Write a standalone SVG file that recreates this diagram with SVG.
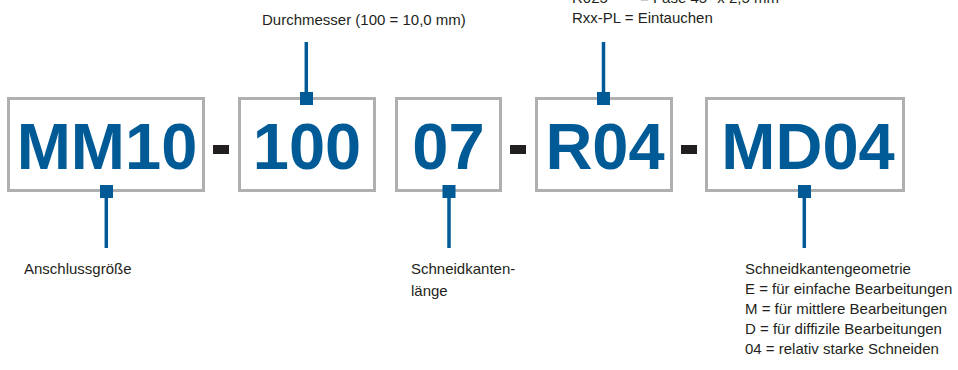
<svg xmlns="http://www.w3.org/2000/svg" width="958" height="370" viewBox="0 0 958 370">
<style>
.box{fill:#fff;stroke:#aeafb1;stroke-width:3}
.code{font-family:"Liberation Sans",Arial,sans-serif;font-weight:bold;font-size:65px;fill:#005a96;text-anchor:middle}
.lbl{font-family:"Liberation Sans",Arial,sans-serif;font-size:15px;fill:#231f20}
.dash{fill:#231f20}
.ln{stroke:#005a96;stroke-width:3.5;fill:none}
.sq{fill:#005a96}
</style>
<rect width="958" height="370" fill="#fff"/>
<g id="node-mm10">
<rect class="box" x="8.5" y="98.5" width="195" height="92"/>
<text class="code" x="107" y="169">MM10</text>
</g>
<g id="node-100">
<rect class="box" x="239.5" y="98.5" width="135" height="92"/>
<text class="code" x="307" y="169">100</text>
</g>
<g id="node-07">
<rect class="box" x="396.5" y="98.5" width="104" height="92"/>
<text class="code" x="448.5" y="169">07</text>
</g>
<g id="node-r04">
<rect class="box" x="536.5" y="98.5" width="135" height="92"/>
<text class="code" x="605" y="169">R04</text>
</g>
<g id="node-md04">
<rect class="box" x="706.5" y="98.5" width="197" height="92"/>
<text class="code" x="808" y="169">MD04</text>
</g>
<g id="dashes">
<rect class="dash" x="213" y="145" width="16" height="9"/>
<rect class="dash" x="510" y="145" width="16" height="9"/>
<rect class="dash" x="681" y="145" width="16" height="9"/>
</g>
<g id="connectors">
<line class="ln" x1="106.3" y1="192" x2="106.3" y2="248"/>
<rect class="sq" x="100" y="185" width="13" height="13"/>
<line class="ln" x1="306.3" y1="42" x2="306.3" y2="98"/>
<rect class="sq" x="300" y="92" width="13" height="13"/>
<line class="ln" x1="449" y1="192" x2="449" y2="248"/>
<rect class="sq" x="442.5" y="185" width="13" height="13"/>
<line class="ln" x1="603.5" y1="42" x2="603.5" y2="98"/>
<rect class="sq" x="597" y="92" width="13" height="13"/>
<line class="ln" x1="804.3" y1="192" x2="804.3" y2="248"/>
<rect class="sq" x="798" y="185" width="13" height="13"/>
</g>
<g id="labels">
<text class="lbl" x="262" y="25">Durchmesser (100 = 10,0 mm)</text>
<text class="lbl" x="572" y="3">R025<tspan x="640">= Fase 45° x 2,5 mm</tspan></text>
<text class="lbl" x="572" y="23">Rxx-PL = Eintauchen</text>
<text class="lbl" x="24" y="274">Anschlussgröße</text>
<text class="lbl" x="411" y="274">Schneidkanten-</text>
<text class="lbl" x="411" y="296">länge</text>
<text class="lbl" x="745" y="274">Schneidkantengeometrie</text>
<text class="lbl" x="745" y="294">E = für einfache Bearbeitungen</text>
<text class="lbl" x="745" y="314">M = für mittlere Bearbeitungen</text>
<text class="lbl" x="745" y="334">D = für diffizile Bearbeitungen</text>
<text class="lbl" x="745" y="354">04 = relativ starke Schneiden</text>
</g>
</svg>
